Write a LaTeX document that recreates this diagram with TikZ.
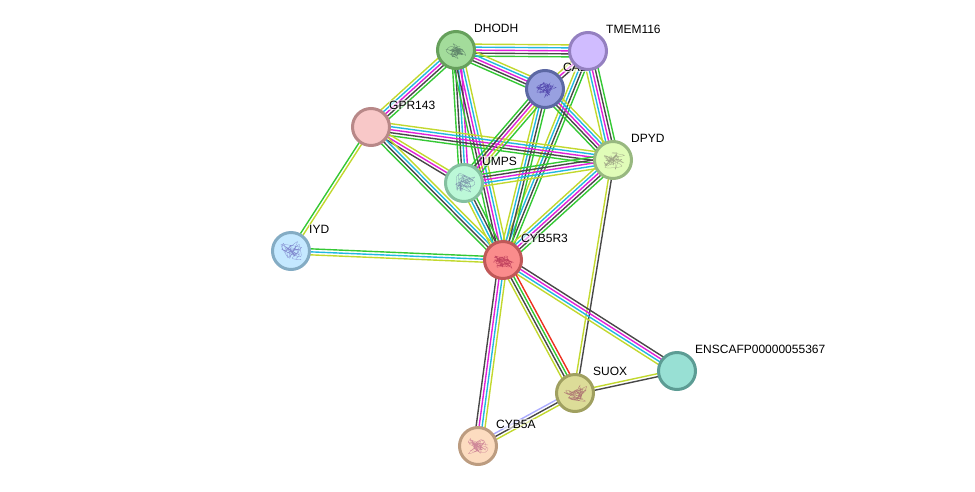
\documentclass[tikz,border=0pt]{standalone}
\usepackage{fontspec}
\setmainfont{Liberation Sans}
\usetikzlibrary{calc}
\usetikzlibrary{positioning}
\pgfdeclarelayer{edges}
\pgfdeclarelayer{labels}
\pgfsetlayers{edges,labels,main}
\definecolor{tmcol}{HTML}{C2D82E}
\definecolor{dbcol}{HTML}{22B8E0}
\definecolor{excol}{HTML}{E020D8}
\definecolor{cecol}{HTML}{484848}
\definecolor{nbcol}{HTML}{34C834}
\definecolor{fucol}{HTML}{EC3020}
\definecolor{hmcol}{HTML}{ACACFF}
\definecolor{dhodhf}{HTML}{A3DC9B}
\definecolor{dhodhd}{HTML}{66A05C}
\definecolor{tmemf}{HTML}{D0BCFF}
\definecolor{tmemd}{HTML}{9480C0}
\definecolor{cadf}{HTML}{98A0E0}
\definecolor{cadd}{HTML}{5C68A4}
\definecolor{gprf}{HTML}{F8C8C8}
\definecolor{gprd}{HTML}{B88888}
\definecolor{dpydf}{HTML}{E0FCB8}
\definecolor{dpydd}{HTML}{98B880}
\definecolor{umpsf}{HTML}{BCF8D8}
\definecolor{umpsd}{HTML}{84C0A0}
\definecolor{iydf}{HTML}{C4E8FF}
\definecolor{iydd}{HTML}{84ACC4}
\definecolor{cybrf}{HTML}{FA8C8C}
\definecolor{cybrd}{HTML}{C05858}
\definecolor{enscf}{HTML}{98E0D4}
\definecolor{enscd}{HTML}{5C9C94}
\definecolor{suoxf}{HTML}{DCDC98}
\definecolor{suoxd}{HTML}{A0A060}
\definecolor{cybaf}{HTML}{FCDCC0}
\definecolor{cybad}{HTML}{BC9C80}
\definecolor{dhodhs}{HTML}{4C6C5C}
\definecolor{cads}{HTML}{4030A0}
\definecolor{dpyds}{HTML}{8C8C78}
\definecolor{umpss}{HTML}{6C7CA0}
\definecolor{iyds}{HTML}{6C6CC0}
\definecolor{cybrs}{HTML}{B02C50}
\definecolor{suoxs}{HTML}{A05868}
\definecolor{cybas}{HTML}{C06C8C}
\tikzset{
  protein/.style={circle,draw,line width=3pt,minimum size=37pt,inner sep=0pt},
  prolabel/.style={font=\fontsize{12}{12}\selectfont,inner sep=0.5pt,xshift=-2.5pt,yshift=22pt,
    fill=white,fill opacity=0.6,text opacity=1,node distance=0pt},
  tm/.style={draw=tmcol,line width=1.4pt},
  db/.style={draw=dbcol,line width=1.4pt},
  ex/.style={draw=excol,line width=1.4pt},
  ce/.style={draw=cecol,line width=1.4pt},
  nb/.style={draw=nbcol,line width=1.4pt},
  fu/.style={draw=fucol,line width=1.4pt},
  hm/.style={draw=hmcol,line width=1.4pt},
}
\newcommand{\edge}[3]{ %
  % One parallel line per colour, first colour on the left of the way from #1 to #2.
  \foreach \col [count=\n] in {#3} {\xdef\total{\n}} ;
  \foreach \col [count=\n] in {#3} { %
    \pgfmathsetmacro{\off}{(\total+1-2*\n)*1.5}
    \draw[\col] ($(#1)!\off pt!90:(#2)$) -- ($(#2)!\off pt!-90:(#1)$) ;
  } ;
}
\newcommand{\fold}[3]{ %
  % Small tangle of thin lines inside a protein.
  \pgfmathsetseed{#3}
  \draw[#2,line width=0.25pt,shift={(#1)},opacity=0.75] plot[smooth,samples=40,domain=1:40]
    ({rand*8+rand*4},{rand*6+rand*4}) ;
}
\begin{document}
\begin{tikzpicture}[x=1pt,y=-1pt]
  \useasboundingbox (0,0) rectangle (975,491);

  \node[protein,fill=dhodhf,draw=dhodhd] (DHODH) at (456,50) {};
  \node[protein,fill=tmemf,draw=tmemd] (TMEM116) at (588,51) {};
  \node[protein,fill=cadf,draw=cadd] (CAD) at (545,89) {};
  \node[protein,fill=gprf,draw=gprd] (GPR143) at (371,127) {};
  \node[protein,fill=dpydf,draw=dpydd] (DPYD) at (613,160) {};
  \node[protein,fill=umpsf,draw=umpsd] (UMPS) at (464,183) {};
  \node[protein,fill=iydf,draw=iydd] (IYD) at (291,251) {};
  \node[protein,fill=cybrf,draw=cybrd] (CYB5R3) at (503,260) {};
  \node[protein,fill=enscf,draw=enscd] (ENSCAFP) at (677,371) {};
  \node[protein,fill=suoxf,draw=suoxd] (SUOX) at (575,393) {};
  \node[protein,fill=cybaf,draw=cybad] (CYB5A) at (478,446) {};

  \begin{pgfonlayer}{edges}
    \edge {DHODH} {TMEM116} {tm,db,ex,ce,nb};
    \edge {DHODH} {CAD} {tm,db,ex,ce,nb};
    \edge {GPR143} {DHODH} {tm,db,ex,ce,nb};
    \edge {UMPS} {DHODH} {nb,ce,db,ex};
    \edge {CYB5R3} {DHODH} {nb,ce,ex,db,tm};
    \edge {DPYD} {TMEM116} {tm,db,ex,ce,nb};
    \edge {CYB5R3} {TMEM116} {tm,db,ce,nb};
    \edge {CAD} {TMEM116} {tm,ex,ce};
    \edge {CAD} {DPYD} {tm,db,ex,ce,nb};
    \edge {CYB5R3} {CAD} {tm,db,ce,nb};
    \edge {GPR143} {DPYD} {tm,db,ex,ce,nb};
    \edge {GPR143} {UMPS} {tm,ex,ce};
    \edge {GPR143} {CYB5R3} {tm,db,ce,nb};
    \edge {IYD} {GPR143} {nb,tm};
    \edge {IYD} {CYB5R3} {nb,db,tm};
    \edge {UMPS} {DPYD} {nb,ce,ex,db,tm};
    \edge {UMPS} {CAD} {nb,ce,ex,tm,nb};
    \edge {UMPS} {CYB5R3} {nb,ce,db,tm};
    \edge {CYB5R3} {DPYD} {tm,db,ex,ce,nb};
    \edge {SUOX} {DPYD} {tm,ce};
    \edge {CYB5R3} {ENSCAFP} {ce,ex,db,tm};
    \edge {CYB5R3} {SUOX} {fu,nb,ce,tm};
    \edge {CYB5A} {CYB5R3} {ce,ex,db,tm};
    \edge {SUOX} {ENSCAFP} {tm,ce};
    \edge {CYB5A} {SUOX} {hm,ce,tm};
  \end{pgfonlayer}

  \begin{pgfonlayer}{labels}
    \node[prolabel,right=of DHODH] (lDHODH) {DHODH};
    \node[prolabel,right=of TMEM116] (lTMEM116) {TMEM116};
    \node[prolabel,right=of CAD] (lCAD) {CAD};
    \node[prolabel,right=of GPR143] (lGPR143) {GPR143};
    \node[prolabel,right=of DPYD] (lDPYD) {DPYD};
    \node[prolabel,right=of UMPS] (lUMPS) {UMPS};
    \node[prolabel,right=of IYD] (lIYD) {IYD};
    \node[prolabel,right=of CYB5R3] (lCYB5R3) {CYB5R3};
    \node[prolabel,right=of ENSCAFP] (lENSCAFP) {ENSCAFP00000055367};
    \node[prolabel,right=of SUOX] (lSUOX) {SUOX};
    \node[prolabel,right=of CYB5A] (lCYB5A) {CYB5A};
  \end{pgfonlayer}

  \fold {DHODH} {dhodhs} {11}
  \fold {CAD} {cads} {12}
  \fold {DPYD} {dpyds} {13}
  \fold {UMPS} {umpss} {14}
  \fold {IYD} {iyds} {15}
  \fold {CYB5R3} {cybrs} {16}
  \fold {SUOX} {suoxs} {17}
  \fold {CYB5A} {cybas} {18}
\end{tikzpicture}
\end{document}
